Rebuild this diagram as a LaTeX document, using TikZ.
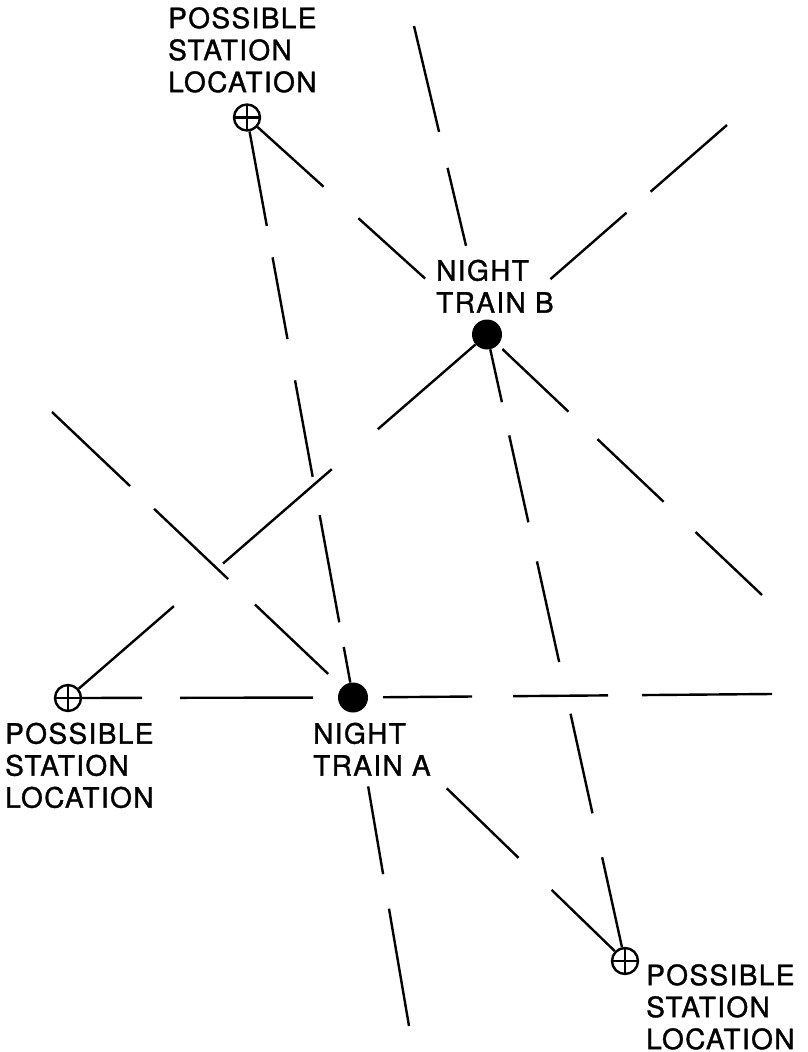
\documentclass[tikz,border=0pt]{standalone}
\usepackage{fontspec}
\newfontfamily\letterfont[LetterSpace=5,FakeBold=1.2]{TeX Gyre Heros}
\tikzset{
  every path/.style={
    black
  },
  station/.style={
    circle, draw, line width=2.4pt, minimum size=26pt, inner sep=0pt,
    path picture={
      \draw[line width=2.2pt]
        (path picture bounding box.north) -- (path picture bounding box.south)
        (path picture bounding box.west) -- (path picture bounding box.east);
    }
  },
  train/.style={
    circle, fill=black, minimum size=30pt, inner sep=0pt
  },
  ray/.style={
    line width=2.4pt
  },
  lettering/.style={
    align=left, anchor=north west, inner sep=0pt,
    font=\letterfont\fontsize{28}{32}\selectfont
  }
}

\begin{document}
\begin{tikzpicture}[x=1pt,y=-1pt]
    \useasboundingbox (0,0) rectangle (807,1052);

    % stations and trains
    \node[station] (sT) at (247,117.5) {};
    \node[station] (sL) at (68,698) {};
    \node[station] (sR) at (625,961) {};
    \node[train] (tA) at (353,697.5) {};
    \node[train] (tB) at (487,334.5) {};

    % labels
    \node[lettering] (lblT) at (168,7) {POSSIBLE\\STATION\\LOCATION};
    \node[lettering] (lblL) at (5,722.5) {POSSIBLE\\STATION\\LOCATION};
    \node[lettering] (lblR) at (646,964) {POSSIBLE\\STATION\\LOCATION};
    \node[lettering] (lblB) at (436,259.5) {NIGHT\\TRAIN B};
    \node[lettering] (lblA) at (313,722.5) {NIGHT\\TRAIN A};

    % free ends of the rays
    \coordinate (endA1) at (409,1026);
    \coordinate (endB2) at (762,595);
    \coordinate (endB3) at (414,26);
    \coordinate (endB4) at (727,125);
    \coordinate (endA5) at (52,412);
    \coordinate (endA6) at (772,694);

    % station -> train
    \draw[ray, dash pattern=on 96pt off 32pt on 83pt off 42pt on 98pt off 39pt on 109pt off 25pt on 60pt] (sT) -- (tA);
    \draw[ray, dash pattern=on 89pt off 47pt on 90pt off 100pt] (sT) -- (tB);
    \draw[ray, dash pattern=on 92pt off 45pt on 102pt off 53pt on 103pt off 40pt on 89pt off 34pt on 60pt] (sR) -- (tB);
    \draw[ray, dash pattern=on 126pt off 65pt on 144pt off 61pt on 130pt] (sL) -- (tB);
    \draw[ray, dash pattern=on 88pt off 46pt on 100pt off 200pt] (sR) -- (tA);
    \draw[ray, dash pattern=on 60pt off 38pt on 133pt off 60pt] (sL) -- (tA);

    % train -> beyond
    \draw[ray, dash pattern=on 0pt off 75pt on 89pt off 35pt on 120pt] (tA) -- (endA1);
    \draw[ray, dash pattern=on 0pt off 6pt on 91pt off 40pt on 91pt off 44pt on 93pt] (tB) -- (endB2);
    \draw[ray, dash pattern=on 0pt off 76pt on 80pt off 37pt on 110pt] (tB) -- (endB3);
    \draw[ray, dash pattern=on 0pt off 69pt on 101pt off 32pt on 101pt] (tB) -- (endB4);
    \draw[ray, dash pattern=on 0pt off 19pt on 101pt off 37pt on 102pt off 33pt on 108pt] (tA) -- (endA5);
    \draw[ray, dash pattern=on 0pt off 15pt on 89pt off 41pt on 95pt off 34pt on 130pt] (tA) -- (endA6);

\end{tikzpicture}
\end{document}
